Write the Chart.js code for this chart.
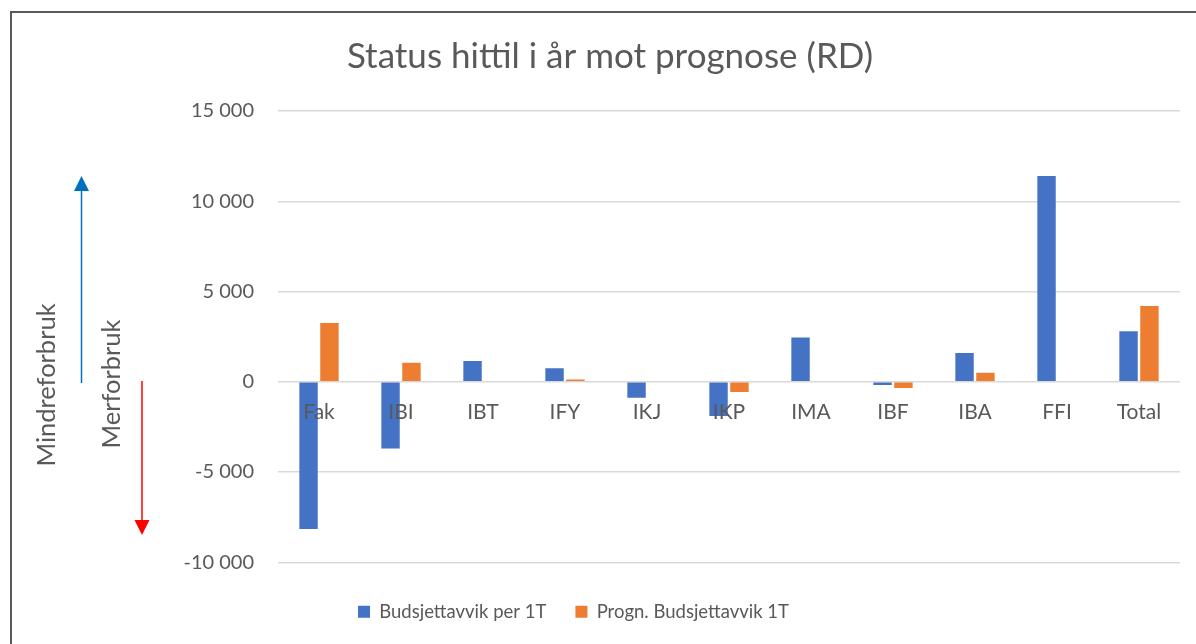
<!DOCTYPE html>
<html>
<head>
<meta charset="utf-8">
<title>Status hittil i år mot prognose (RD)</title>
<script src="https://cdn.jsdelivr.net/npm/chart.js@4.4.1/dist/chart.umd.min.js"></script>
<style>
  html, body { margin: 0; padding: 0; background: #fff; overflow: hidden; }
  body { width: 1196px; height: 644px; position: relative; }
  #frame {
    position: absolute; left: 10px; top: 11px; width: 1300px; height: 700px;
    border-top: 2px solid #595959; border-left: 2px solid #595959;
  }
  #wrap { position: absolute; left: -33px; top: 0; width: 1229px; height: 644px; }
</style>
</head>
<body>
<div id="frame"></div>
<div id="wrap"><canvas id="chart"></canvas></div>
<script>
// data
const categories = ['Fak', 'IBI', 'IBT', 'IFY', 'IKJ', 'IKP', 'IMA', 'IBF', 'IBA', 'FFI', 'Total'];
const budsjettavvik = [-8150, -3700, 1150, 750, -880, -1900, 2450, -180, 1600, 11400, 2800];
const prognAvvik = [3250, 1050, 0, 130, 0, -570, 50, -350, 500, 0, 4200];
const seriesNames = ['Budsjettavvik per 1T', 'Progn. Budsjettavvik 1T'];
const yTicks = [-10000, -5000, 0, 5000, 10000, 15000];

const textColor = '#595959';
const fontFamily = 'Lato, "Open Sans", sans-serif';

function formatTick(v) {
    const s = Math.abs(v).toString().replace(/\B(?=(\d{3})+(?!\d))/g, ' ');
    return (v < 0 ? '-' : '') + s;
}

// title + the two arrows with their labels on the left
const decorations = {
    id: 'decorations',
    afterDraw(chart) {
        const ctx = chart.ctx;
        const offset = 33; // canvas starts 33px left of the page
        ctx.save();
        ctx.translate(offset, 0);

        ctx.fillStyle = textColor;
        ctx.font = '35px ' + fontFamily;
        ctx.textAlign = 'center';
        ctx.textBaseline = 'alphabetic';
        ctx.fillText('Status hittil i år mot prognose (RD)', 610, 68);

        function arrow(x, y1, y2, color) {
            const dir = y2 < y1 ? -1 : 1;
            ctx.strokeStyle = color;
            ctx.fillStyle = color;
            ctx.lineWidth = 1.5;
            ctx.beginPath();
            ctx.moveTo(x, y1);
            ctx.lineTo(x, y2 - dir * 14);
            ctx.stroke();
            ctx.beginPath();
            ctx.moveTo(x, y2);
            ctx.lineTo(x - 7.5, y2 - dir * 15);
            ctx.lineTo(x + 7.5, y2 - dir * 15);
            ctx.closePath();
            ctx.fill();
        }
        arrow(81.5, 383, 176, '#0070C0');
        arrow(142, 381, 535, '#FF0000');

        ctx.fillStyle = textColor;
        ctx.font = '25.5px ' + fontFamily;
        ctx.textAlign = 'center';
        ctx.textBaseline = 'middle';
        [['Mindreforbruk', 47, 385], ['Merforbruk', 112, 384]].forEach(([t, x, y]) => {
            ctx.save();
            ctx.translate(x, y);
            ctx.rotate(-Math.PI / 2);
            ctx.fillText(t, 0, 0);
            ctx.restore();
        });
        ctx.restore();
    }
};

new Chart(document.getElementById('chart'), {
    type: 'bar',
    data: {
        labels: categories,
        datasets: [{
            label: seriesNames[0],
            data: budsjettavvik,
            backgroundColor: '#4472C4',
            categoryPercentage: 0.51,
            barPercentage: 0.88
        }, {
            label: seriesNames[1],
            data: prognAvvik,
            backgroundColor: '#ED7D31',
            categoryPercentage: 0.51,
            barPercentage: 0.88
        }]
    },
    options: {
        responsive: true,
        maintainAspectRatio: false,
        animation: false,
        layout: { padding: { top: 111, right: 16, bottom: 13, left: 0 } },
        plugins: {
            title: { display: false },
            tooltip: { enabled: false },
            legend: {
                position: 'bottom',
                labels: {
                    color: textColor,
                    font: { family: fontFamily, size: 18.5 },
                    boxWidth: 12,
                    boxHeight: 12,
                    padding: 29
                },
                title: { display: true, text: ' ', font: { size: 1 }, padding: { top: 10, bottom: 0 } }
            }
        },
        scales: {
            x: {
                position: { y: 0 },
                grid: { display: false, drawTicks: false },
                border: { display: false },
                ticks: {
                    z: 1,
                    color: textColor,
                    font: { family: fontFamily, size: 21 },
                    padding: 18,
                    maxRotation: 0,
                    autoSkip: false
                }
            },
            y: {
                min: -10000,
                max: 15000,
                afterFit(scale) { scale.width = 311; },
                afterBuildTicks(scale) { scale.ticks = yTicks.map(v => ({ value: v })); },
                grid: { color: '#d9d9d9', lineWidth: 1.5, drawTicks: false },
                border: { display: false },
                ticks: {
                    color: textColor,
                    font: { family: fontFamily, size: 20 },
                    padding: 24,
                    callback: formatTick
                }
            }
        }
    },
    plugins: [decorations]
});
</script>
</body>
</html>
